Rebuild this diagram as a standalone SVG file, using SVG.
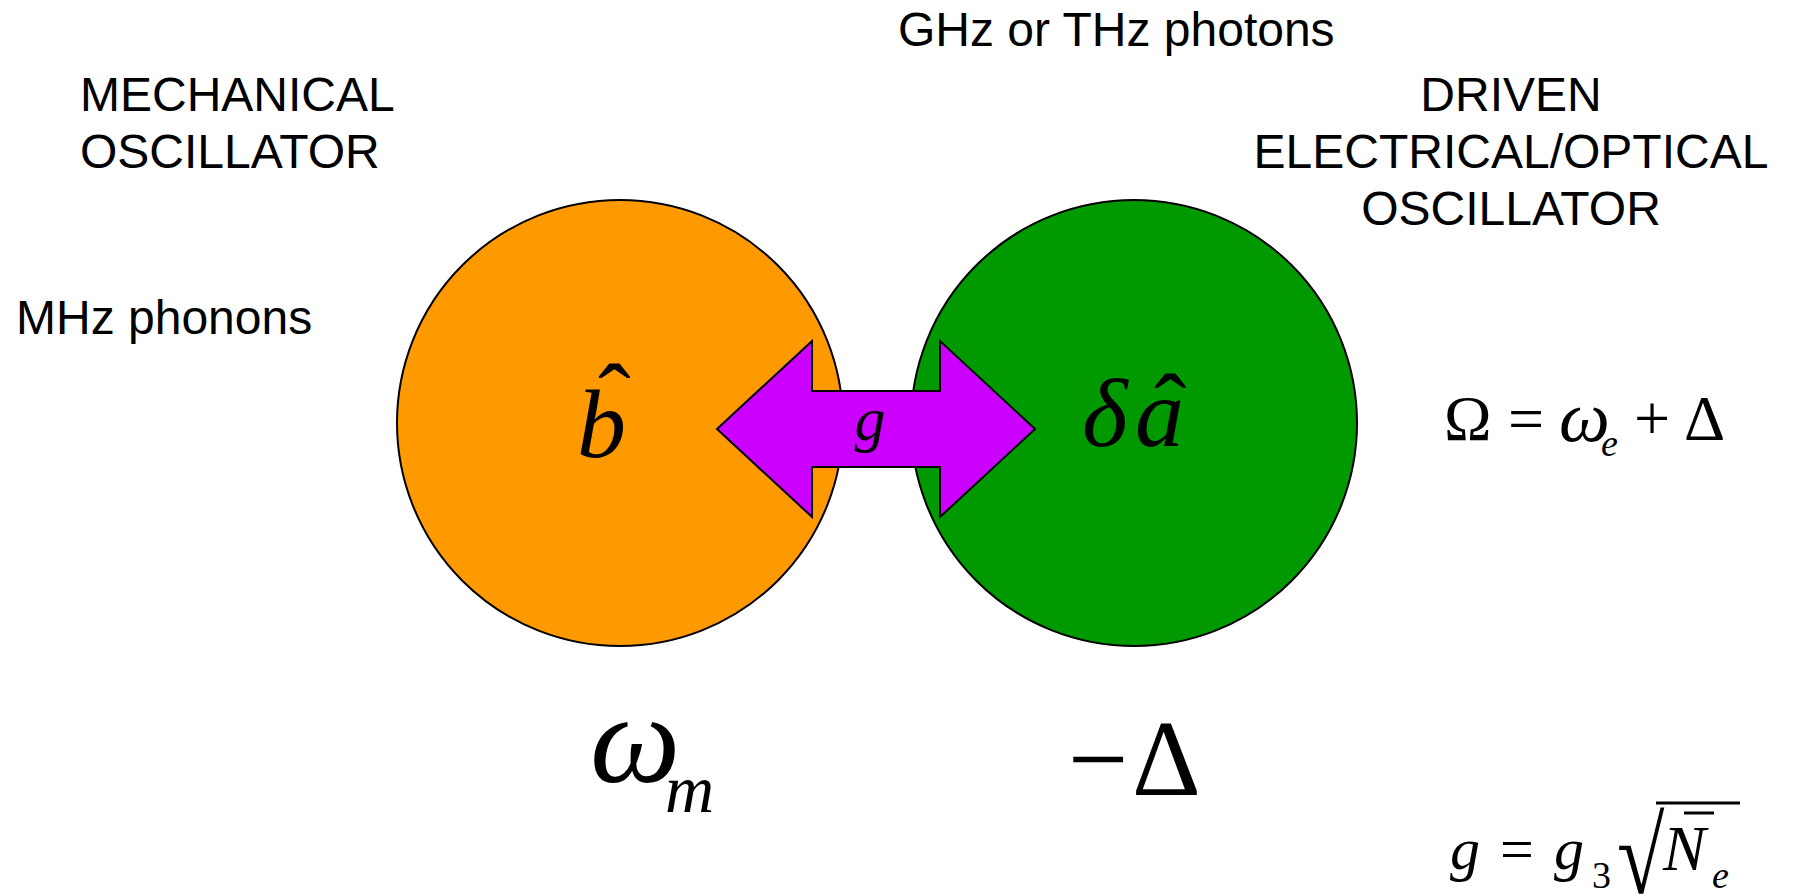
<svg xmlns="http://www.w3.org/2000/svg" width="1794" height="895" viewBox="0 0 1794 895">
<style>
.sans{font-family:"Liberation Sans",Arial,sans-serif;font-size:48px;fill:#000}
.mi{font-family:"Liberation Serif","Times New Roman",serif;font-style:italic;fill:#000}
.mu{font-family:"Liberation Serif","Times New Roman",serif;font-style:normal;fill:#000}
.node{stroke:#000;stroke-width:2}
</style>
<rect width="1794" height="895" fill="#fff"/>
<g id="mechanical">
<circle class="node" cx="620" cy="423" r="223" fill="#FF9900"/>
<text class="mi" font-size="98"><tspan x="577" y="457">b</tspan><tspan class="mu" x="598" y="431">ˆ</tspan></text>
</g>
<g id="driven">
<circle class="node" cx="1134" cy="423" r="223" fill="#009900"/>
<text class="mi" font-size="98"><tspan x="1082" y="446">δ</tspan><tspan x="1135" y="446">a</tspan><tspan class="mu" x="1154" y="441">ˆ</tspan></text>
</g>
<g id="connectors">
<polygon points="717,429 812,341 812,391 940,391 940,341 1035,429 940,517 940,467 812,467 812,517" fill="#CC00FF" stroke="#000" stroke-width="2"/>
<text class="mi" x="870" y="440" font-size="62" text-anchor="middle">g</text>
</g>
<g id="labels">
<text class="sans" x="898" y="46">GHz or THz photons</text>
<text class="sans" x="80" y="111">MECHANICAL</text>
<text class="sans" x="80" y="168">OSCILLATOR</text>
<text class="sans" x="16" y="334">MHz phonons</text>
<text class="sans" x="1511" y="111" text-anchor="middle">DRIVEN</text>
<text class="sans" x="1511" y="168" text-anchor="middle">ELECTRICAL/OPTICAL</text>
<text class="sans" x="1511" y="225" text-anchor="middle">OSCILLATOR</text>
</g>
<g id="omega-m">
<text class="mi"><tspan x="590" y="782" font-size="128">ω</tspan><tspan x="665" y="812" font-size="68">m</tspan></text>
</g>
<g id="minus-delta">
<text class="mu" font-size="107"><tspan x="1068" y="795">−</tspan><tspan x="1132" y="795">Δ</tspan></text>
</g>
<g id="omega-eq">
<text class="mu" font-size="64"><tspan x="1444" y="440">Ω</tspan><tspan x="1508" y="440">=</tspan><tspan class="mi" x="1559" y="441" font-size="72">ω</tspan><tspan class="mi" x="1601" y="456" font-size="38">e</tspan><tspan x="1634" y="440">+</tspan><tspan x="1684" y="440">Δ</tspan></text>
</g>
<g id="g-eq">
<text class="mi" font-size="60"><tspan x="1450" y="869">g</tspan><tspan class="mu" x="1500" y="869">=</tspan><tspan x="1554" y="869">g</tspan><tspan class="mu" x="1592" y="888" font-size="38">3</tspan><tspan x="1663" y="870" font-size="64">N</tspan><tspan x="1712" y="888" font-size="38">e</tspan></text>
<text class="mu" font-size="108" transform="translate(1617,893) scale(0.8,1)">√</text>
<line x1="1656" y1="803" x2="1740" y2="803" stroke="#000" stroke-width="3"/>
<line x1="1684" y1="813" x2="1714" y2="813" stroke="#000" stroke-width="3"/>
</g>
</svg>
